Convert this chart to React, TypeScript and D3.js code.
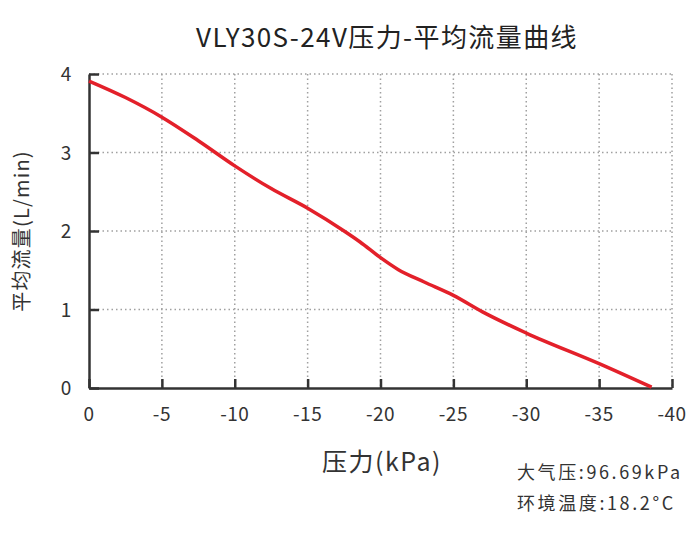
import React, { useEffect, useRef } from 'react';
import * as d3 from 'd3';

// pressure (kPa) vs average flow (L/min)
const pressure = [0, -2.5, -5, -7.5, -10, -12.5, -15, -17.5, -18.6, -20, -21.2, -23, -25, -27, -30, -35, -38.6];
const flow = [3.91, 3.7, 3.45, 3.15, 2.83, 2.54, 2.29, 2.0, 1.86, 1.66, 1.51, 1.35, 1.18, 0.97, 0.7, 0.31, 0.01];
const xTicks = [0, -5, -10, -15, -20, -25, -30, -35, -40];
const yTicks = [0, 1, 2, 3, 4];

const FONT = '"Noto Sans CJK SC", "Noto Sans", sans-serif';

const App: React.FC = () => {
  const svgRef = useRef<SVGSVGElement | null>(null);

  useEffect(() => {
    if (!svgRef.current) return;
    const width = 700;
    const height = 533;
    const margin = { top: 74, right: 28, bottom: 145, left: 89 };

    const svg = d3.select(svgRef.current).attr('width', width).attr('height', height);
    svg.selectAll('*').remove();

    const x = d3.scaleLinear().domain([0, -40]).range([margin.left, width - margin.right]);
    const y = d3.scaleLinear().domain([0, 4]).range([height - margin.bottom, margin.top]);

    // dotted grid
    const grid = svg.append('g').attr('stroke', '#a0a0a0').attr('stroke-width', 1.5).attr('stroke-dasharray', '1.5,3');
    grid
      .selectAll('.gx')
      .data(xTicks.slice(1))
      .enter()
      .append('line')
      .attr('x1', (d) => x(d))
      .attr('x2', (d) => x(d))
      .attr('y1', y(4))
      .attr('y2', y(0));
    grid
      .selectAll('.gy')
      .data(yTicks.slice(1))
      .enter()
      .append('line')
      .attr('x1', x(0))
      .attr('x2', x(-40))
      .attr('y1', (d) => y(d))
      .attr('y2', (d) => y(d));

    // axes with inward ticks
    const xAxis = svg
      .append('g')
      .attr('transform', `translate(0,${y(0)})`)
      .call(d3.axisTop(x).tickValues(xTicks).tickSize(9).tickSizeOuter(0).tickFormat(() => ''));
    const yAxis = svg
      .append('g')
      .attr('transform', `translate(${x(0)},0)`)
      .call(d3.axisRight(y).tickValues(yTicks).tickSize(10).tickSizeOuter(0).tickFormat(() => ''));
    [xAxis, yAxis].forEach((a) => {
      a.selectAll('path,line').attr('stroke', '#333').attr('stroke-width', 2.5);
    });

    // tick labels
    svg
      .selectAll('.xl')
      .data(xTicks)
      .enter()
      .append('text')
      .attr('x', (d) => x(d))
      .attr('y', y(0) + 33)
      .attr('text-anchor', 'middle')
      .attr('font-size', 19)
      .attr('letter-spacing', 0.5)
      .attr('font-family', FONT)
      .attr('fill', '#333')
      .text((d) => String(d));
    svg
      .selectAll('.yl')
      .data(yTicks)
      .enter()
      .append('text')
      .attr('x', 66)
      .attr('y', (d) => y(d) + 7)
      .attr('text-anchor', 'middle')
      .attr('font-size', 19)
      .attr('font-family', FONT)
      .attr('fill', '#333')
      .text((d) => String(d));

    // curve
    const line = d3
      .line<number>()
      .x((_, i) => x(pressure[i]))
      .y((d) => y(d))
      .curve(d3.curveMonotoneX);
    svg
      .append('path')
      .datum(flow)
      .attr('d', line)
      .attr('fill', 'none')
      .attr('stroke', '#e3202a')
      .attr('stroke-width', 3.5);

    // titles
    svg
      .append('text')
      .attr('x', 387)
      .attr('y', 47)
      .attr('text-anchor', 'middle')
      .attr('font-size', 26)
      .attr('letter-spacing', 1.4)
      .attr('font-family', FONT)
      .attr('fill', '#222')
      .text('VLY30S-24V压力-平均流量曲线');
    svg
      .append('text')
      .attr('x', 382)
      .attr('y', 471)
      .attr('text-anchor', 'middle')
      .attr('font-size', 25)
      .attr('letter-spacing', 1.5)
      .attr('font-family', FONT)
      .attr('fill', '#333')
      .text('压力(kPa)');
    svg
      .append('text')
      .attr('transform', 'translate(29,231) rotate(-90)')
      .attr('text-anchor', 'middle')
      .attr('font-size', 20)
      .attr('letter-spacing', 1.2)
      .attr('font-family', FONT)
      .attr('fill', '#333')
      .text('平均流量(L/min)');
    svg
      .append('text')
      .attr('x', 517)
      .attr('y', 479)
      .attr('font-size', 18)
      .attr('letter-spacing', 2.6)
      .attr('font-family', FONT)
      .attr('fill', '#333')
      .text('大气压:96.69kPa');
    svg
      .append('text')
      .attr('x', 517)
      .attr('y', 510)
      .attr('font-size', 18)
      .attr('letter-spacing', 2.6)
      .attr('font-family', FONT)
      .attr('fill', '#333')
      .text('环境温度:18.2°C');
  }, []);

  return (
    <div style={{ margin: -8 }}>
      <svg ref={svgRef} style={{ display: 'block' }}></svg>
    </div>
  );
};

export default App;
